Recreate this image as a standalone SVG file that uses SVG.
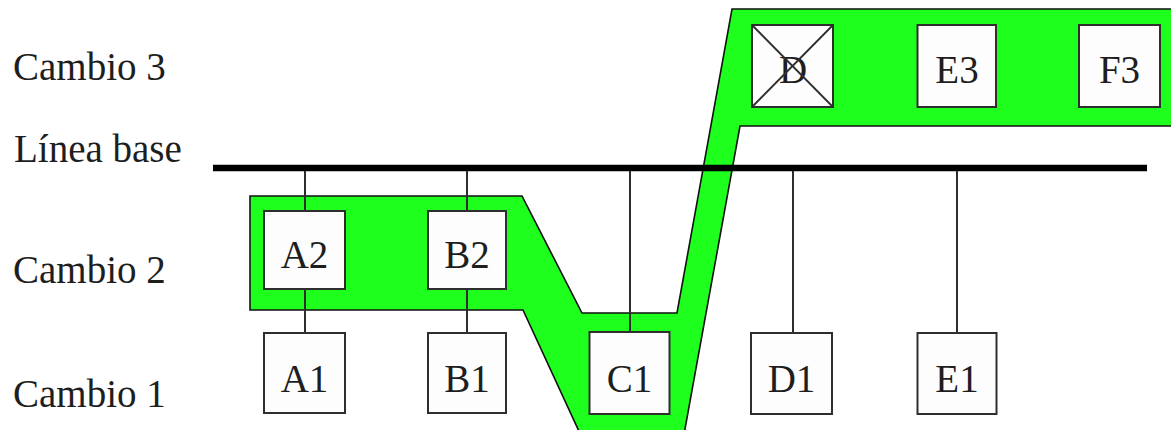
<svg xmlns="http://www.w3.org/2000/svg" width="1171" height="430" viewBox="0 0 1171 430">
<style>
.t{font-size:39px;fill:#1e1e1e}
.box rect{fill:#fdfdfd;stroke:#2e2e2e;stroke-width:2}
.box text{text-anchor:middle}
.conn line{stroke:#2e2e2e;stroke-width:2}
</style>
<rect width="1171" height="430" fill="#ffffff"/>
<g id="region">
<polygon points="250,196 522,196 582,313 677,313 732,9 1180,9 1180,126 740,126 683,440 583,440 523,310 250,310" fill="#1eff1e" stroke="#111" stroke-width="1.6" stroke-linejoin="miter"/>
</g>
<g id="labels" font-family="Liberation Serif, Times New Roman, serif" class="t">
<text x="13" y="80">Cambio 3</text>
<text x="14" y="162">Línea base</text>
<text x="13" y="283">Cambio 2</text>
<text x="13" y="407">Cambio 1</text>
</g>
<g id="baseline">
<line x1="213" y1="168" x2="1147" y2="168" stroke="#000" stroke-width="6.5"/>
</g>
<g class="conn" id="connectors">
<line x1="305" y1="171" x2="305" y2="211"/>
<line x1="305" y1="289" x2="305" y2="333"/>
<line x1="467" y1="171" x2="467" y2="211"/>
<line x1="467" y1="289" x2="467" y2="333"/>
<line x1="630" y1="171" x2="630" y2="332"/>
<line x1="793" y1="171" x2="793" y2="333"/>
<line x1="957" y1="171" x2="957" y2="333"/>
</g>
<g id="nodes" font-family="Liberation Serif, Times New Roman, serif" class="t">
<g class="box" id="A2"><rect x="264" y="211" width="81" height="78"/><text x="304.5" y="268">A2</text></g>
<g class="box" id="B2"><rect x="428" y="211" width="78" height="78"/><text x="467" y="268">B2</text></g>
<g class="box" id="A1"><rect x="264" y="333" width="81" height="80"/><text x="304.5" y="392">A1</text></g>
<g class="box" id="B1"><rect x="428" y="333" width="78" height="80"/><text x="467" y="392">B1</text></g>
<g class="box" id="C1"><rect x="589.5" y="332" width="80" height="82"/><text x="629.5" y="392">C1</text></g>
<g class="box" id="D1"><rect x="751" y="333" width="81" height="81"/><text x="791.5" y="392">D1</text></g>
<g class="box" id="E1"><rect x="917.5" y="333" width="79" height="81"/><text x="957" y="392">E1</text></g>
<g class="box" id="D3"><rect x="752" y="25" width="81" height="82"/><text x="793" y="83">D</text>
<line x1="752" y1="25" x2="833" y2="107" stroke="#2e2e2e" stroke-width="1.8"/>
<line x1="833" y1="25" x2="752" y2="107" stroke="#2e2e2e" stroke-width="1.8"/></g>
<g class="box" id="E3"><rect x="917.5" y="25" width="78.5" height="82"/><text x="957" y="83">E3</text></g>
<g class="box" id="F3"><rect x="1079" y="25" width="81" height="82"/><text x="1119.5" y="83">F3</text></g>
</g>
</svg>
